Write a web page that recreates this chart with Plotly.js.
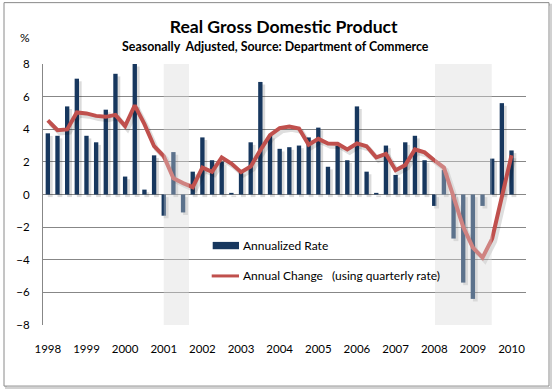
<!DOCTYPE html>
<html>
<head>
<meta charset="utf-8">
<script src="https://cdn.plot.ly/plotly-3.0.1.min.js"></script>
<style>
  html, body { margin: 0; padding: 0; background: #fff; }
  #chart { width: 553px; height: 390px; }
</style>
</head>
<body>
<div id="chart"></div>
<script>
// Quarterly data, 1998 Q1 .. 2010 Q1 (index 0..48); axis has one spare slot (2010 Q2)
const quarterIndex = Array.from({length: 49}, (_, i) => i);

const annualizedRate = [
  3.75, 3.6, 5.4, 7.1,   // 1998
  3.6, 3.2, 5.2, 7.4,    // 1999
  1.1, 8.0, 0.3, 2.4,    // 2000
  -1.3, 2.6, -1.1, 1.4,  // 2001
  3.5, 2.1, 2.0, 0.1,    // 2002
  1.4, 3.2, 6.9, 3.6,    // 2003
  2.8, 2.9, 3.0, 3.5,    // 2004
  4.1, 1.7, 3.0, 2.1,    // 2005
  5.4, 1.4, 0.1, 3.0,    // 2006
  1.2, 3.2, 3.6, 2.1,    // 2007
  -0.7, 1.5, -2.7, -5.4, // 2008
  -6.4, -0.7, 2.2, 5.6,  // 2009
  2.7                    // 2010
];

const annualChange = [
  4.54, 3.94, 3.99, 5.03,
  4.97, 4.82, 4.76, 4.88,
  4.19, 5.46, 4.31, 2.96,
  2.35, 1.0, 0.7, 0.45,
  1.65, 1.39, 2.27, 1.9,
  1.37, 1.72, 2.72, 3.64,
  4.07, 4.17, 4.05, 3.05,
  3.41, 3.13, 3.11, 2.76,
  3.13, 2.96, 2.27, 2.49,
  1.49, 1.8, 2.76, 2.58,
  2.1, 1.65, -0.14, -1.99,
  -3.25, -3.87, -2.7, -0.15,
  2.41
];

const yearTickPos = [0, 4, 8, 12, 16, 20, 24, 28, 32, 36, 40, 44, 48];
const yearLabels = ['1998','1999','2000','2001','2002','2003','2004','2005','2006','2007','2008','2009','2010'];

// Recession shading (in quarter-index units)
const recessionStart = [12.0, 40.08];
const recessionEnd = [14.6, 45.95];

const navy = '#17375e';
const red = '#c0504d';
const FONT = 'Lato, "Open Sans", sans-serif';

const traces = [
  { // bar shadow
    type: 'bar', x: quarterIndex, y: annualizedRate, base: -0.16,
    width: 0.5, offset: 0.0,
    marker: { color: 'rgba(0,0,0,0.14)', line: { width: 0 } },
    hoverinfo: 'skip', showlegend: false
  },
  {
    type: 'bar', name: 'Annualized Rate', x: quarterIndex, y: annualizedRate,
    width: 0.45, offset: -0.225,
    marker: { color: navy, line: { width: 0 } },
    showlegend: false
  },
  { // line shadow
    type: 'scatter', mode: 'lines',
    x: quarterIndex.map(v => v + 0.25), y: annualChange.map(v => v - 0.17),
    line: { color: 'rgba(0,0,0,0.13)', width: 5 },
    hoverinfo: 'skip', showlegend: false
  },
  {
    type: 'scatter', mode: 'lines', name: 'Annual Change  (using quarterly rate)',
    x: quarterIndex, y: annualChange,
    line: { color: red, width: 4 },
    showlegend: false
  }
];

// pixel -> paper helpers for decorations
const L = 43, R = 526, T = 64.3, B = 325;
const px = p => (p - L) / (R - L);
const py = p => (B - p) / (B - T);

const shapes = [];
// frame shadow + frame
shapes.push({ type: 'rect', xref: 'paper', yref: 'paper', layer: 'below',
  x0: px(6), x1: px(551), y0: py(5), y1: py(388),
  line: { color: 'rgba(0,0,0,0.18)', width: 2 }, fillcolor: 'rgba(0,0,0,0)' });
shapes.push({ type: 'rect', xref: 'paper', yref: 'paper', layer: 'below',
  x0: px(4), x1: px(549), y0: py(3), y1: py(386),
  line: { color: '#8a8a8a', width: 1 }, fillcolor: '#ffffff' });
recessionStart.forEach((s, i) => {
  shapes.push({ type: 'rect', xref: 'x', yref: 'paper', layer: 'below',
    x0: s, x1: recessionEnd[i], y0: 0, y1: 1,
    line: { width: 0 }, fillcolor: '#f1f1f1' });
  shapes.push({ type: 'rect', xref: 'x', yref: 'paper', layer: 'above',
    x0: s, x1: recessionEnd[i], y0: 0, y1: 1,
    line: { width: 0 }, fillcolor: 'rgba(241,241,241,0.32)' });
});
// custom legend symbols
shapes.push({ type: 'rect', xref: 'paper', yref: 'paper', layer: 'above',
  x0: px(212.7), x1: px(239), y0: py(249.3), y1: py(242),
  line: { width: 0 }, fillcolor: navy });
shapes.push({ type: 'line', xref: 'paper', yref: 'paper', layer: 'above',
  x0: px(211.7), x1: px(239), y0: py(276), y1: py(276),
  line: { color: red, width: 3 } });

const annotations = [
  { text: '<b>Seasonally  Adjusted, Source: Department of Commerce</b>',
    xref: 'paper', yref: 'paper', x: px(275.5), y: py(46.5),
    xanchor: 'center', yanchor: 'middle', showarrow: false,
    font: { family: FONT, size: 12.4, color: '#000' } },
  { text: '%', xref: 'paper', yref: 'paper', x: px(25), y: py(38),
    xanchor: 'center', yanchor: 'middle', showarrow: false,
    font: { family: FONT, size: 12, color: '#000' } },
  { text: 'Annualized Rate', xref: 'paper', yref: 'paper', x: px(241), y: py(245.7),
    xanchor: 'left', yanchor: 'middle', showarrow: false,
    font: { family: FONT, size: 12, color: '#000' } },
  { text: 'Annual Change   (using quarterly rate)', xref: 'paper', yref: 'paper', x: px(241), y: py(276),
    xanchor: 'left', yanchor: 'middle', showarrow: false,
    font: { family: FONT, size: 12, color: '#000' } }
];

const layout = {
  width: 553, height: 390,
  margin: { l: L, r: 553 - R, t: T, b: 390 - B, pad: 0 },
  paper_bgcolor: '#ffffff', plot_bgcolor: 'rgba(0,0,0,0)',
  showlegend: false,
  barmode: 'overlay',
  title: {
    text: '<b>Real Gross Domestic Product</b>',
    x: 275.5 / 553, xanchor: 'center', xref: 'paper',
    y: 1 - 27 / 390, yanchor: 'middle', yref: 'container',
    font: { family: FONT, size: 17.6, color: '#000' }
  },
  xaxis: {
    range: [-0.5, 49.5], tickmode: 'array', tickvals: yearTickPos, ticktext: yearLabels,
    showgrid: false, zeroline: false, showline: false, ticks: '',
    ticklabelstandoff: 15,
    tickfont: { family: FONT, size: 11.5, color: '#000' }, fixedrange: true
  },
  yaxis: {
    range: [-8, 8], tickmode: 'array', tickvals: [-8,-6,-4,-2,0,2,4,6,8],
    showgrid: true, gridcolor: '#878787', gridwidth: 1,
    zeroline: true, zerolinecolor: '#878787', zerolinewidth: 1,
    showline: true, linecolor: '#878787', linewidth: 1, ticks: '',
    ticklabelstandoff: 10,
    tickfont: { family: FONT, size: 11.5, color: '#000' }, fixedrange: true
  },
  shapes: shapes,
  annotations: annotations
};

Plotly.newPlot('chart', traces, layout, { displayModeBar: false, staticPlot: true });
</script>
</body>
</html>
